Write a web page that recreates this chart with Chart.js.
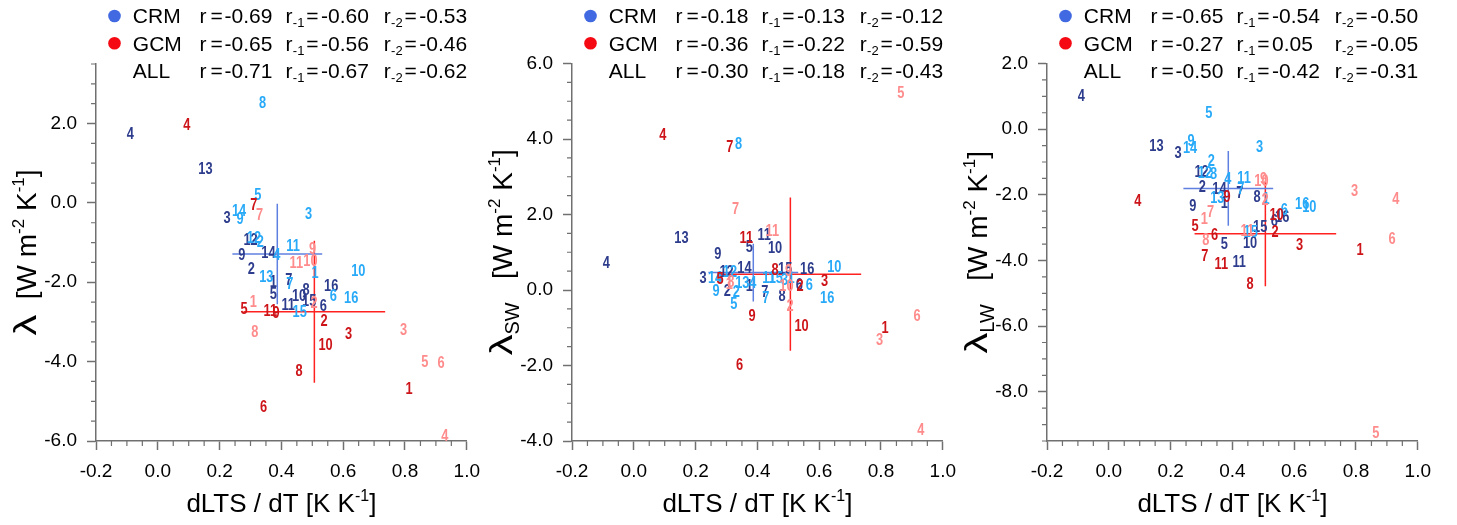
<!DOCTYPE html>
<html>
<head>
<meta charset="utf-8">
<script src="https://cdn.jsdelivr.net/npm/chart.js@4.4.1/dist/chart.umd.min.js"></script>
<style>
body{margin:0;background:#fff;}
#wrap{position:relative;width:1457px;height:525px;overflow:hidden;background:#fff;}
canvas{position:absolute;top:0;}
</style>
</head>
<body>
<div id="wrap">
<canvas id="lam" width="490" height="525" style="left:0px"></canvas>
<canvas id="sw" width="490" height="525" style="left:476px"></canvas>
<canvas id="lw" width="490" height="525" style="left:951px"></canvas>
</div>
<script>
// dLTS/dT per model (same in all three panels)
const xCrm1 = [0.374,0.303,0.224,-0.089,0.374,0.536,0.424,0.480,0.272,0.457,0.422,0.300,0.154,0.358,0.490,0.561];
const xCrm2 = [0.509,0.332,0.488,0.385,0.324,0.568,0.427,0.339,0.266,0.649,0.438,0.311,0.351,0.263,0.459,0.626];
const xGcm1 = [0.813,0.538,0.617,0.094,0.279,0.342,0.311,0.457,0.383,0.543,0.364];
const xGcm2 = [0.309,0.506,0.795,0.929,0.864,0.917,0.329,0.314,0.501,0.494,0.448];

// lambda (net)
const lamCrm1 = [-2.01,-1.68,-0.39,1.73,-2.30,-2.62,-1.97,-2.20,-1.34,-2.35,-2.58,-0.96,0.84,-1.27,-2.48,-2.11];
const lamCrm2 = [-1.78,-1.01,-0.29,-1.32,0.19,-2.35,-2.07,2.50,-0.41,-1.72,-1.11,-0.90,-1.89,-0.21,-2.76,-2.41];
const lamGcm1 = [-4.70,-3.00,-3.31,1.94,-2.70,-5.15,-0.06,-4.24,-2.79,-3.60,-2.74];
const lamGcm2 = [-2.51,-2.53,-3.21,-5.88,-4.02,-4.05,-0.33,-3.26,-1.17,-1.48,-1.53];

// lambda SW
const swCrm1 = [0.09,-0.05,0.29,0.70,1.12,0.11,-0.06,-0.18,0.94,1.10,1.43,0.46,1.35,0.57,0.53,0.53];
const swCrm2 = [0.31,-0.07,0.24,0.18,-0.38,0.11,-0.24,3.84,-0.05,0.59,0.29,0.46,0.18,0.29,0.31,-0.22];
const swGcm1 = [-1.02,0.10,0.22,4.08,0.28,-1.99,3.77,0.51,-0.71,-0.97,1.37];
const swGcm2 = [0.13,-0.44,-1.33,-3.73,5.21,-0.71,2.13,0.20,0.50,0.09,1.54];

// lambda LW
const lwCrm1 = [-2.27,-1.78,-0.74,0.98,-3.53,-2.82,-1.96,-2.08,-2.37,-3.50,-4.07,-1.33,-0.54,-1.84,-3.00,-2.69];
const lwCrm2 = [-2.14,-1.00,-0.56,-1.55,0.48,-2.49,-1.84,-1.37,-0.39,-2.39,-1.50,-1.35,-2.11,-0.59,-3.16,-2.29];
const lwGcm1 = [-3.71,-3.16,-3.56,-2.21,-2.98,-3.23,-3.87,-4.75,-2.08,-2.62,-4.14];
const lwGcm2 = [-2.75,-2.17,-1.89,-2.16,-9.27,-3.35,-2.55,-3.40,-1.55,-1.60,-3.13];

// correlations: r, r-1, r-2
const rLamCrm = [-0.69,-0.60,-0.53], rLamGcm = [-0.65,-0.56,-0.46], rLamAll = [-0.71,-0.67,-0.62];
const rSwCrm = [-0.18,-0.13,-0.12], rSwGcm = [-0.36,-0.22,-0.59], rSwAll = [-0.30,-0.18,-0.43];
const rLwCrm = [-0.65,-0.54,-0.50], rLwGcm = [-0.27,0.05,-0.05], rLwAll = [-0.50,-0.42,-0.31];

// ticks
const xTicks = [-0.2,0.0,0.2,0.4,0.6,0.8,1.0];
const yTicksLam = [-6,-4,-2,0,2];
const yTicksSw = [-4,-2,0,2,4,6];
const yTicksLw = [-8,-6,-4,-2,0,2];

const FONT = "'Liberation Sans', Helvetica, Arial, sans-serif";
const AXIS_GREY = '#707070';

function meanStd(arr){
	const m = arr.reduce((a,b)=>a+b,0)/arr.length;
	const v = arr.reduce((a,b)=>a+(b-m)*(b-m),0)/(arr.length-1);
	return [m, Math.sqrt(v)];
}

function pts(xs, ys){
	return xs.map((x,i)=>({x:x, y:ys[i]}));
}

// mean +- std cross of a group
function crossSets(xs, ys, color){
	const [mx,sx] = meanStd(xs);
	const [my,sy] = meanStd(ys);
	const base = {showLine:true, pointRadius:0, borderColor:color, borderWidth:1.5, fill:false};
	return [
		Object.assign({data:[{x:mx-sx,y:my},{x:mx+sx,y:my}]}, base),
		Object.assign({data:[{x:mx,y:my-sy},{x:mx,y:my+sy}]}, base)
	];
}

function drawPieces(ctx, pieces, x, y){
	pieces.forEach(p=>{
		ctx.font = p.size+'px '+FONT;
		const sx = p.sx || 1;
		const w = ctx.measureText(p.t).width*sx;
		ctx.save();
		ctx.translate(x, y+(p.dy||0));
		ctx.scale(sx,1);
		ctx.fillText(p.t,0,0);
		ctx.restore();
		x += w;
	});
}

function piecesWidth(ctx, pieces){
	let w = 0;
	pieces.forEach(p=>{
		ctx.font = p.size+'px '+FONT;
		w += ctx.measureText(p.t).width*(p.sx||1);
	});
	return w;
}

function drawR(ctx, x, base, sub, val){
	ctx.font = '21px '+FONT;
	ctx.fillText('r', x, base);
	if(sub){
		ctx.font = '13px '+FONT;
		ctx.fillText(sub, x+7.3, base+4);
	}
	ctx.font = '21px '+FONT;
	ctx.fillText('=', x+(sub?20.7:11), base);
	ctx.fillText(val.toFixed(2), x+(sub?35.5:25), base);
}

// numbers as markers
const numberLabels = {
	id:'numberLabels',
	afterDatasetsDraw(chart){
		const ctx = chart.ctx;
		ctx.save();
		ctx.font = 'bold 16px '+FONT;
		ctx.textAlign = 'center';
		ctx.textBaseline = 'middle';
		chart.data.datasets.forEach((ds,i)=>{
			if(!ds.textColor) return;
			ctx.fillStyle = ds.textColor;
			chart.getDatasetMeta(i).data.forEach((p,j)=>{
				ctx.save();
				ctx.translate(p.x, p.y);
				ctx.scale(0.8,1);
				ctx.fillText(String(j+1),0,0);
				ctx.restore();
			});
		});
		ctx.restore();
	}
};

// minor ticks, legend, axis titles
const panelDecor = {
	id:'panelDecor',
	afterDraw(chart, args, opts){
		const ctx = chart.ctx, a = chart.chartArea;
		const xs = chart.scales.x, ys = chart.scales.y;
		ctx.save();
		ctx.strokeStyle = AXIS_GREY;
		ctx.lineWidth = 1.2;
		ctx.beginPath();
		for(let i=0;i<=24;i++){
			if(i%4===0) continue;
			const px = xs.getPixelForValue(-0.2+i*0.05);
			ctx.moveTo(px, a.bottom);
			ctx.lineTo(px, a.bottom+5);
		}
		for(let k=0; ys.min+k*0.5<=ys.max+1e-9; k++){
			const v = ys.min+k*0.5;
			if(Math.abs(v/2-Math.round(v/2))<1e-6) continue;
			const py = ys.getPixelForValue(v);
			ctx.moveTo(a.left-5, py);
			ctx.lineTo(a.left, py);
		}
		ctx.stroke();

		// legend rows
		ctx.textAlign = 'left';
		ctx.textBaseline = 'alphabetic';
		const x0 = a.left+18.5;
		opts.rows.forEach((row,k)=>{
			const base = 23.3+k*27.3;
			if(row.dot){
				ctx.fillStyle = row.dot;
				ctx.beginPath();
				ctx.arc(x0, base-7.3, 6.3, 0, Math.PI*2);
				ctx.fill();
			}
			ctx.fillStyle = '#000';
			ctx.font = '21px '+FONT;
			ctx.fillText(row.name, x0+18.3, base);
			drawR(ctx, x0+85, base, '', row.r[0]);
			drawR(ctx, x0+171, base, '-1', row.r[1]);
			drawR(ctx, x0+269.3, base, '-2', row.r[2]);
		});

		// x title
		const xt = [{t:'dLTS / dT [K K',size:26},{t:'-1',size:16,dy:-11},{t:']',size:26}];
		const xw = piecesWidth(ctx, xt);
		drawPieces(ctx, xt, (a.left+a.right)/2-xw/2, 512);

		// y title
		const yt = [{t:'\u03bb',size:32,sx:1.3}];
		if(opts.sub) yt.push({t:opts.sub,size:20,dy:7});
		yt.push({t:opts.sub?'   [W m':'  [W m',size:28},{t:'-2',size:17,dy:-12},{t:' K',size:28},{t:'-1',size:17,dy:-12},{t:']',size:28});
		const yw = piecesWidth(ctx, yt);
		ctx.translate(a.left-60, (a.top+a.bottom)/2);
		ctx.rotate(-Math.PI/2);
		drawPieces(ctx, yt, -yw/2, 0);
		ctx.restore();
	}
};

function makePanel(id, yRange, yTicks, y1, y2, y3, y4, rCrm, rGcm, rAll, sub, top){
	const crmCross = crossSets(xCrm1.concat(xCrm2), y1.concat(y2), '#5f80e0');
	const gcmCross = crossSets(xGcm1.concat(xGcm2), y3.concat(y4), '#ff2020');
	const groups = [
		{data:pts(xCrm1,y1), textColor:'#2d3c8c'},
		{data:pts(xCrm2,y2), textColor:'#28aaf8'},
		{data:pts(xGcm1,y3), textColor:'#cd1419'},
		{data:pts(xGcm2,y4), textColor:'#ff8c8c'}
	];
	groups.forEach(g=>{ g.pointRadius = 0; g.showLine = false; });

	return new Chart(document.getElementById(id).getContext('2d'), {
		type:'scatter',
		data:{datasets: crmCross.concat(gcmCross, groups)},
		plugins:[numberLabels, panelDecor],
		options:{
			responsive:false,
			animation:false,
			devicePixelRatio:1,
			layout:{padding:{top:top, right:15.5, left:0, bottom:0}},
			plugins:{
				legend:{display:false},
				tooltip:{enabled:false},
				panelDecor:{
					sub:sub,
					rows:[
						{name:'CRM', dot:'#4169e1', r:rCrm},
						{name:'GCM', dot:'#f50a14', r:rGcm},
						{name:'ALL', dot:null, r:rAll}
					]
				}
			},
			scales:{
				x:{
					type:'linear', min:-0.2, max:1.0,
					afterBuildTicks:(s)=>{ s.ticks = xTicks.map(v=>({value:v})); },
					afterFit:(s)=>{ s.height = 84; },
					ticks:{callback:(v)=>v.toFixed(1), font:{size:19, family:FONT}, color:'#000', padding:10, maxRotation:0, autoSkip:false},
					grid:{drawOnChartArea:false, tickLength:9, tickColor:AXIS_GREY, tickWidth:1.5},
					border:{color:AXIS_GREY, width:1.5}
				},
				y:{
					type:'linear', min:yRange[0], max:yRange[1],
					afterBuildTicks:(s)=>{ s.ticks = yTicks.map(v=>({value:v})); },
					afterFit:(s)=>{ s.width = 96; },
					ticks:{callback:(v)=>v.toFixed(1), font:{size:19, family:FONT}, color:'#000', padding:10},
					grid:{drawOnChartArea:false, tickLength:9, tickColor:AXIS_GREY, tickWidth:1.5},
					border:{color:AXIS_GREY, width:1.5}
				}
			}
		}
	});
}

makePanel('lam', [-6,3.5], yTicksLam, lamCrm1, lamCrm2, lamGcm1, lamGcm2, rLamCrm, rLamGcm, rLamAll, '', 64);
makePanel('sw', [-4,6], yTicksSw, swCrm1, swCrm2, swGcm1, swGcm2, rSwCrm, rSwGcm, rSwAll, 'SW', 63.5);
makePanel('lw', [-9.5,2], yTicksLw, lwCrm1, lwCrm2, lwGcm1, lwGcm2, rLwCrm, rLwGcm, rLwAll, 'LW', 63.5);
</script>
</body>
</html>
